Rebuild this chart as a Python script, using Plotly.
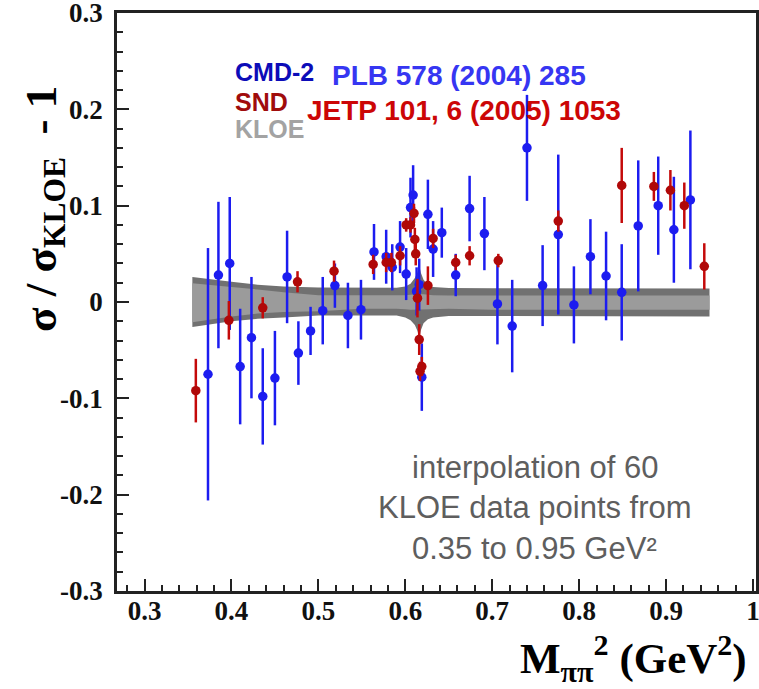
import plotly.graph_objects as go

# CMD-2 points (blue)
cmd2_x = [0.373, 0.385, 0.398, 0.410, 0.423, 0.436, 0.450, 0.464, 0.477, 0.491,
          0.505, 0.519, 0.534, 0.549, 0.564, 0.578, 0.585, 0.594, 0.601, 0.606,
          0.609, 0.613, 0.616, 0.619, 0.626, 0.632, 0.642, 0.658, 0.674, 0.691,
          0.706, 0.723, 0.740, 0.758, 0.776, 0.794, 0.813, 0.831, 0.849, 0.868,
          0.891, 0.909, 0.928]
cmd2_y = [-0.075, 0.028, 0.040, -0.067, -0.037, -0.098, -0.079, 0.026, -0.053, -0.030,
          -0.009, 0.017, -0.014, -0.008, 0.052, 0.047, 0.036, 0.057, 0.029, 0.098,
          0.111, 0.011, 0.018, -0.078, 0.091, 0.055, 0.072, 0.028, 0.097, 0.071,
          -0.002, -0.025, 0.160, 0.017, 0.070, -0.003, 0.047, 0.027, 0.010, 0.079,
          0.100, 0.075, 0.106]
cmd2_err = [0.131, 0.076, 0.069, 0.060, 0.063, 0.050, 0.049, 0.048, 0.033, 0.025,
            0.035, 0.023, 0.034, 0.031, 0.029, 0.028, 0.024, 0.027, 0.027, 0.031,
            0.031, 0.025, 0.027, 0.035, 0.036, 0.029, 0.026, 0.022, 0.034, 0.038,
            0.042, 0.048, 0.055, 0.042, 0.083, 0.040, 0.039, 0.046, 0.050, 0.068,
            0.051, 0.055, 0.072]

# SND points (red)
snd_x = [0.359, 0.397, 0.436, 0.476, 0.518, 0.563, 0.578, 0.584, 0.594, 0.601,
         0.606, 0.610, 0.611, 0.612, 0.614, 0.616, 0.617, 0.619, 0.626, 0.632,
         0.658, 0.674, 0.707, 0.776, 0.849, 0.886, 0.905, 0.921, 0.944]
snd_y = [-0.092, -0.019, -0.006, 0.021, 0.032, 0.039, 0.041, 0.041, 0.048, 0.080,
         0.080, 0.092, 0.065, 0.050, 0.004, -0.039, -0.072, -0.067, 0.017, 0.066,
         0.041, 0.048, 0.043, 0.084, 0.121, 0.120, 0.116, 0.100, 0.037]
snd_err = [0.033, 0.020, 0.011, 0.011, 0.011, 0.010, 0.010, 0.010, 0.010, 0.007,
           0.008, 0.010, 0.012, 0.012, 0.020, 0.016, 0.010, 0.010, 0.020, 0.010,
           0.008, 0.010, 0.007, 0.011, 0.039, 0.015, 0.021, 0.024, 0.024]

# KLOE error band (outer = total, inner = statistical)
band_x = [0.355, 0.38, 0.40, 0.43, 0.46, 0.50, 0.55, 0.59, 0.600, 0.606, 0.611,
          0.614, 0.616, 0.618, 0.621, 0.626, 0.632, 0.65, 0.70, 0.80, 0.90, 0.950]
outer_hi = [0.026, 0.023, 0.021, 0.018, 0.016, 0.015, 0.0145, 0.0148, 0.016, 0.019, 0.025,
            0.031, 0.038, 0.030, 0.023, 0.018, 0.0155, 0.0145, 0.0142, 0.014, 0.014, 0.014]
outer_lo = [-0.026, -0.023, -0.020, -0.0175, -0.016, -0.014, -0.014, -0.014, -0.016, -0.019, -0.024,
            -0.030, -0.037, -0.029, -0.022, -0.018, -0.016, -0.0145, -0.015, -0.015, -0.015, -0.015]
inner_hi = [0.0195, 0.017, 0.0155, 0.013, 0.010, 0.007, 0.0068, 0.0068, 0.007, 0.0075, 0.008,
            0.008, 0.008, 0.008, 0.008, 0.0075, 0.007, 0.0068, 0.0068, 0.0068, 0.0068, 0.0068]
inner_lo = [-0.021, -0.018, -0.015, -0.012, -0.0105, -0.0095, -0.007, -0.007, -0.0075, -0.008, -0.008,
            -0.008, -0.008, -0.008, -0.008, -0.008, -0.0075, -0.007, -0.008, -0.008, -0.008, -0.008]

x_ticks = [0.3, 0.4, 0.5, 0.6, 0.7, 0.8, 0.9, 1.0]
x_tick_labels = ['0.3', '0.4', '0.5', '0.6', '0.7', '0.8', '0.9', '1']
y_ticks = [-0.3, -0.2, -0.1, 0.0, 0.1, 0.2, 0.3]
y_tick_labels = ['-0.3', '-0.2', '-0.1', '0', '0.1', '0.2', '0.3']

DARK_GREY = '#717171'
LIGHT_GREY = '#9b9b9b'
BLUE = '#1c1cf0'
RED = '#c40a0a'

fig = go.Figure()

fig.add_trace(go.Scatter(
    x=band_x + band_x[::-1], y=outer_hi + outer_lo[::-1],
    fill='toself', fillcolor=DARK_GREY, mode='lines', line=dict(width=0),
    hoverinfo='skip', showlegend=False))
fig.add_trace(go.Scatter(
    x=band_x + band_x[::-1], y=inner_hi + inner_lo[::-1],
    fill='toself', fillcolor=LIGHT_GREY, mode='lines', line=dict(width=0),
    hoverinfo='skip', showlegend=False))

fig.add_trace(go.Scatter(
    x=cmd2_x, y=cmd2_y, mode='markers',
    marker=dict(size=9.5, color=BLUE),
    error_y=dict(type='data', array=cmd2_err, color=BLUE, thickness=2.5, width=0),
    showlegend=False))
fig.add_trace(go.Scatter(
    x=snd_x, y=snd_y, mode='markers',
    marker=dict(size=9.5, color='#b00808'),
    error_y=dict(type='data', array=snd_err, color=RED, thickness=2.5, width=0),
    showlegend=False))

tick_font = dict(family='Liberation Serif', size=27, color='#111111', weight='bold')
minor = dict(ticks='inside', ticklen=6, dtick=0.02, tickcolor='#222222', tickwidth=2)
axis_common = dict(
    showline=True, linecolor='#222222', linewidth=2.5, mirror=True,
    ticks='inside', ticklen=12, tickwidth=2, tickcolor='#222222',
    showgrid=False, zeroline=False, tickfont=tick_font, automargin=False,
    ticklabeloverflow='allow', minor=minor)

fig.update_xaxes(range=[0.2683, 1.0035], tickmode='array', tickvals=x_ticks,
                 ticktext=x_tick_labels, ticklabelstandoff=-6, **axis_common)
fig.update_yaxes(range=[-0.3, 0.3], tickmode='array', tickvals=y_ticks,
                 ticktext=y_tick_labels, ticklabelstandoff=6, **axis_common)

sans = 'Liberation Sans'
notes = [
    ('<b>CMD-2</b>', 0.1815, 0.898, 25, '#0c0cb8'),
    ('<b>PLB 578 (2004) 285</b>', 0.3333, 0.8927, 28, '#3636f2'),
    ('<b>SND</b>', 0.1815, 0.8466, 25, '#a00c0c'),
    ('<b>JETP 101, 6 (2005) 1053</b>', 0.2942, 0.832, 28, '#cc0606'),
    ('<b>KLOE</b>', 0.1815, 0.799, 25, '#a3a3a3'),
]
for text, x, y, size, color in notes:
    fig.add_annotation(text=text, x=x, y=y, xref='paper', yref='paper',
                       xanchor='left', yanchor='middle', showarrow=False,
                       font=dict(family=sans, size=size, color=color))

for text, y in [('interpolation of 60', 0.2145),
                ('KLOE data points from', 0.1436),
                ('0.35 to 0.95 GeV²', 0.0727)]:
    fig.add_annotation(text=text, x=0.654, y=y, xref='paper', yref='paper',
                       xanchor='center', yanchor='middle', showarrow=False,
                       font=dict(family=sans, size=31, color='#5e5e5e'))

fig.add_annotation(text='<b>σ / σ<sub>KLOE</sub>  - 1</b>', x=-0.115, y=0.66,
                   xref='paper', yref='paper', textangle=-90, showarrow=False,
                   xanchor='center', yanchor='middle',
                   font=dict(family='Liberation Serif', size=45, color='#000000'))
fig.add_annotation(text='<b>M<sub>ππ</sub><sup>2</sup> (GeV<sup>2</sup>)</b>', x=0.808, y=-0.116,
                   xref='paper', yref='paper', showarrow=False,
                   xanchor='center', yanchor='middle',
                   font=dict(family='Liberation Serif', size=43, color='#000000'))

fig.update_layout(
    width=759, height=689,
    margin=dict(l=117, r=3, t=13, b=98),
    plot_bgcolor='white', paper_bgcolor='white',
    showlegend=False)

# drop the default page margin so the figure starts at the window corner
fig.write_html("out.html", config={'displayModeBar': False},
               post_script="document.body.style.margin='0';")
